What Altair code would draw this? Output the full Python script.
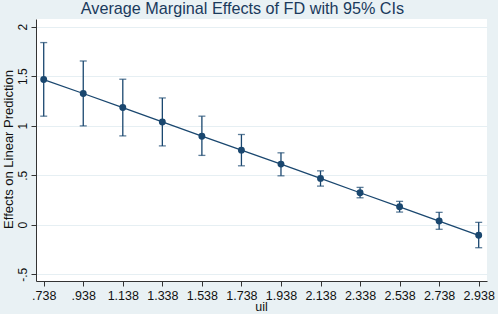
import altair as alt
import pandas as pd

# ---- data ----
uil = [0.738, 0.938, 1.138, 1.338, 1.538, 1.738, 1.938, 2.138, 2.338, 2.538, 2.738, 2.938]
margin = [1.466, 1.325, 1.183, 1.038, 0.894, 0.753, 0.612, 0.468, 0.323, 0.181, 0.037, -0.107]
ci_low = [1.096, 0.998, 0.897, 0.796, 0.700, 0.595, 0.494, 0.390, 0.272, 0.128, -0.046, -0.232]
ci_high = [1.839, 1.653, 1.469, 1.280, 1.096, 0.911, 0.726, 0.544, 0.377, 0.236, 0.125, 0.024]

x_tick_values = uil
x_tick_labels = [".738", ".938", "1.138", "1.338", "1.538", "1.738", "1.938",
                 "2.138", "2.338", "2.538", "2.738", "2.938"]
y_tick_values = [-0.5, 0, 0.5, 1, 1.5, 2]
y_tick_labels = ["-.5", "0", ".5", "1", "1.5", "2"]

df = pd.DataFrame({"uil": uil, "margin": margin, "lo": ci_low, "hi": ci_high})


def label_expr(values, labels):
    parts = [f"abs(datum.value - ({v})) < 1e-6 ? '{l}'" for v, l in zip(values, labels)]
    return " : ".join(parts) + " : ''"


NAVY = "#1a476f"
FONT = "Liberation Sans"

xscale = alt.Scale(domain=[0.699, 2.98], nice=False, zero=False)
yscale = alt.Scale(domain=[-0.568, 2.077], nice=False, zero=False)

x_axis = alt.Axis(
    values=x_tick_values, labelExpr=label_expr(x_tick_values, x_tick_labels),
    grid=False, title="uil", tickSize=5, labelPadding=3, labelFontSize=12.5,
    titleFontSize=12.5, titleBaseline="alphabetic", titleAlign="center",
    titleX=225, titleY=29, labelFlush=False, labelOverlap=False,
)
y_axis = alt.Axis(
    values=y_tick_values, labelExpr=label_expr(y_tick_values, y_tick_labels),
    grid=True, title="Effects on Linear Prediction", tickSize=5, labelAngle=270,
    labelAlign="center", labelBaseline="alphabetic", labelPadding=5, labelFontSize=12,
    titleFontSize=13, titleAngle=270, titleX=-28, titleY=130, titleAlign="center",
    titleBaseline="middle", labelFlush=False, labelOverlap=False,
)

base = alt.Chart(df)

rule = base.mark_rule(color=NAVY, strokeWidth=1.3).encode(
    x=alt.X("uil:Q", scale=xscale, axis=x_axis),
    y=alt.Y("lo:Q", scale=yscale, axis=y_axis),
    y2="hi:Q",
)
cap_lo = base.mark_tick(color=NAVY, orient="horizontal", size=7, thickness=1.3).encode(
    x=alt.X("uil:Q", scale=xscale), y=alt.Y("lo:Q", scale=yscale)
)
cap_hi = base.mark_tick(color=NAVY, orient="horizontal", size=7, thickness=1.3).encode(
    x=alt.X("uil:Q", scale=xscale), y=alt.Y("hi:Q", scale=yscale)
)
line = base.mark_line(color=NAVY, strokeWidth=1.3).encode(
    x=alt.X("uil:Q", scale=xscale), y=alt.Y("margin:Q", scale=yscale)
)
points = base.mark_circle(color=NAVY, size=48, opacity=1).encode(
    x=alt.X("uil:Q", scale=xscale), y=alt.Y("margin:Q", scale=yscale)
)

chart = (
    alt.layer(rule, cap_lo, cap_hi, line, points)
    .properties(
        width=451, height=262,
        autosize=alt.AutoSizeParams(type="none"),
        padding={"left": 36, "top": 19, "right": 11, "bottom": 33},
        title=alt.TitleParams(
            "Average Marginal Effects of FD with 95% CIs", anchor="middle",
            fontSize=16.2, font=FONT, fontWeight="normal", color="#1a3a5c",
            baseline="alphabetic", offset=-11, dx=-19,
        ),
        background="#e9f1f4",
    )
    .configure_view(fill="white", stroke=None)
    .configure_axis(
        labelFont=FONT, titleFont=FONT, labelColor="#111", titleColor="#111",
        titleFontWeight="normal", domainColor="#333", tickColor="#333",
        gridColor="#e6eff3", gridWidth=1, domainWidth=1, tickWidth=1,
    )
)

chart.save("out.html", embed_options={"renderer": "svg", "actions": False})
